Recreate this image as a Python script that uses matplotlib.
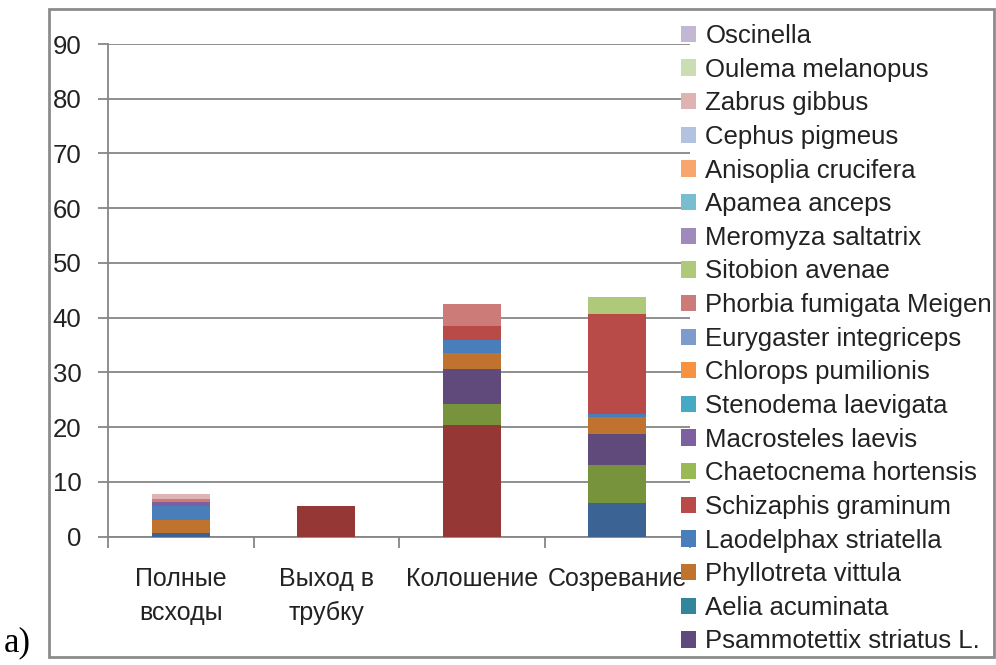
import numpy as np
import matplotlib.pyplot as plt
from matplotlib.patches import Rectangle

plt.rcParams['font.family'] = ['Liberation Sans', 'DejaVu Sans']

# ==================== data ====================
categories = ['Полные\nвсходы', 'Выход в\nтрубку', 'Колошение', 'Созревание']

# stacking order, bottom -> top (first three series are not shown in the legend)
series_names = ['_s1', '_s2', '_s3',
                'Psammotettix striatus L.', 'Aelia acuminata', 'Phyllotreta vittula',
                'Laodelphax striatella', 'Schizaphis graminum', 'Chaetocnema hortensis',
                'Macrosteles laevis', 'Stenodema laevigata', 'Chlorops pumilionis',
                'Eurygaster integriceps', 'Phorbia fumigata Meigen', 'Sitobion avenae',
                'Meromyza saltatrix', 'Apamea anceps', 'Anisoplia crucifera',
                'Cephus pigmeus', 'Zabrus gibbus', 'Oulema melanopus', 'Oscinella']

series_colors = ['#3B6495', '#953735', '#77933C',
                 '#604A7B', '#31859C', '#C0732F',
                 '#4A7EBB', '#B84B48', '#98B954',
                 '#7D60A0', '#46AAC5', '#F69240',
                 '#7E9CCB', '#CD7B79', '#AFC97A',
                 '#9F8ABC', '#78BDD0', '#F9A66E',
                 '#B3C2DE', '#E0B3B3', '#CDDDB2', '#C2B8D4']

# values per category, same order as series_names
polnye_vskhody = [0.7, 0, 0, 0, 0, 2.4, 2.4, 0, 0, 0.8, 0, 0, 0, 0.6, 0, 0, 0, 0, 0, 0.9, 0, 0]
vykhod_v_trubku = [0, 5.5, 0, 0, 0, 0, 0, 0, 0, 0, 0, 0, 0, 0, 0, 0, 0, 0, 0, 0, 0, 0]
koloshenie = [0, 20.3, 4.0, 6.4, 0, 2.9, 2.4, 2.4, 0, 0, 0, 0, 0, 4.0, 0, 0, 0, 0, 0, 0, 0, 0]
sozrevanie = [6.2, 0, 6.9, 5.6, 0, 3.2, 0.5, 18.2, 0, 0, 0, 0, 0, 0, 3.2, 0, 0, 0, 0, 0, 0, 0]

values = np.array([polnye_vskhody, vykhod_v_trubku, koloshenie, sozrevanie]).T

# ==================== plot ====================
fig = plt.figure(figsize=(9.96, 6.65), dpi=100)
ax = fig.add_axes([108 / 996, (665 - 536.5) / 665, (690 - 108) / 996, (536.5 - 44) / 665])

x = np.arange(len(categories))
bottom = np.zeros(len(categories))
for name, color, vals in zip(series_names, series_colors, values):
    ax.bar(x, vals, width=0.4, bottom=bottom, color=color, label=name,
           edgecolor='none', zorder=3)
    bottom += vals

grid_c = '#868686'
txt_c = '#222222'
ax.set_ylim(0, 90)
ax.set_xlim(-0.5, len(categories) - 0.5)
ax.set_yticks(np.arange(0, 91, 10))
ax.yaxis.grid(True, color=grid_c, linewidth=1.3, zorder=0)
for side in ['top', 'right']:
    ax.spines[side].set_visible(False)
for side in ['left', 'bottom']:
    ax.spines[side].set_color(grid_c)
    ax.spines[side].set_linewidth(1.3)
ax.tick_params(axis='y', length=7, width=1.3, color=grid_c, labelsize=18.5, pad=12,
               labelcolor=txt_c)

# category labels sit between the boundary ticks
ax.set_xticks(np.arange(-0.5, len(categories)), minor=False)
ax.set_xticklabels([])
ax.set_xticks(x, minor=True)
ax.set_xticklabels(categories, minor=True, fontsize=18, color=txt_c)
ax.tick_params(axis='x', which='major', length=8, width=1.3, color=grid_c)
ax.tick_params(axis='x', which='minor', length=0, pad=22)
for lbl in ax.get_xticklabels(minor=True):
    lbl.set_linespacing(1.5)

# legend (reverse order, hidden series left out)
handles, labels = ax.get_legend_handles_labels()
pairs = [(h, l) for h, l in zip(handles, labels) if not l.startswith('_')][::-1]
leg = fig.legend([p[0] for p in pairs], [p[1] for p in pairs],
                 loc='upper left', bbox_to_anchor=(681 / 996, (665 - 24) / 665),
                 frameon=False, fontsize=18.5, handlelength=0.6, handleheight=0.6,
                 handletextpad=0.35, labelspacing=0.375, borderpad=0, borderaxespad=0)
for t in leg.get_texts():
    t.set_color(txt_c)

# outer frame
fig.patches.append(Rectangle((49 / 996, 8 / 665), (994 - 49) / 996, (656 - 8) / 665,
                             transform=fig.transFigure, fill=False,
                             edgecolor='#8c8c8c', linewidth=2))

fig.text(4 / 996, (665 - 643) / 665, 'a)', fontsize=25, family='Liberation Serif',
         va='center', ha='left')

plt.savefig('out.png', dpi=100)
